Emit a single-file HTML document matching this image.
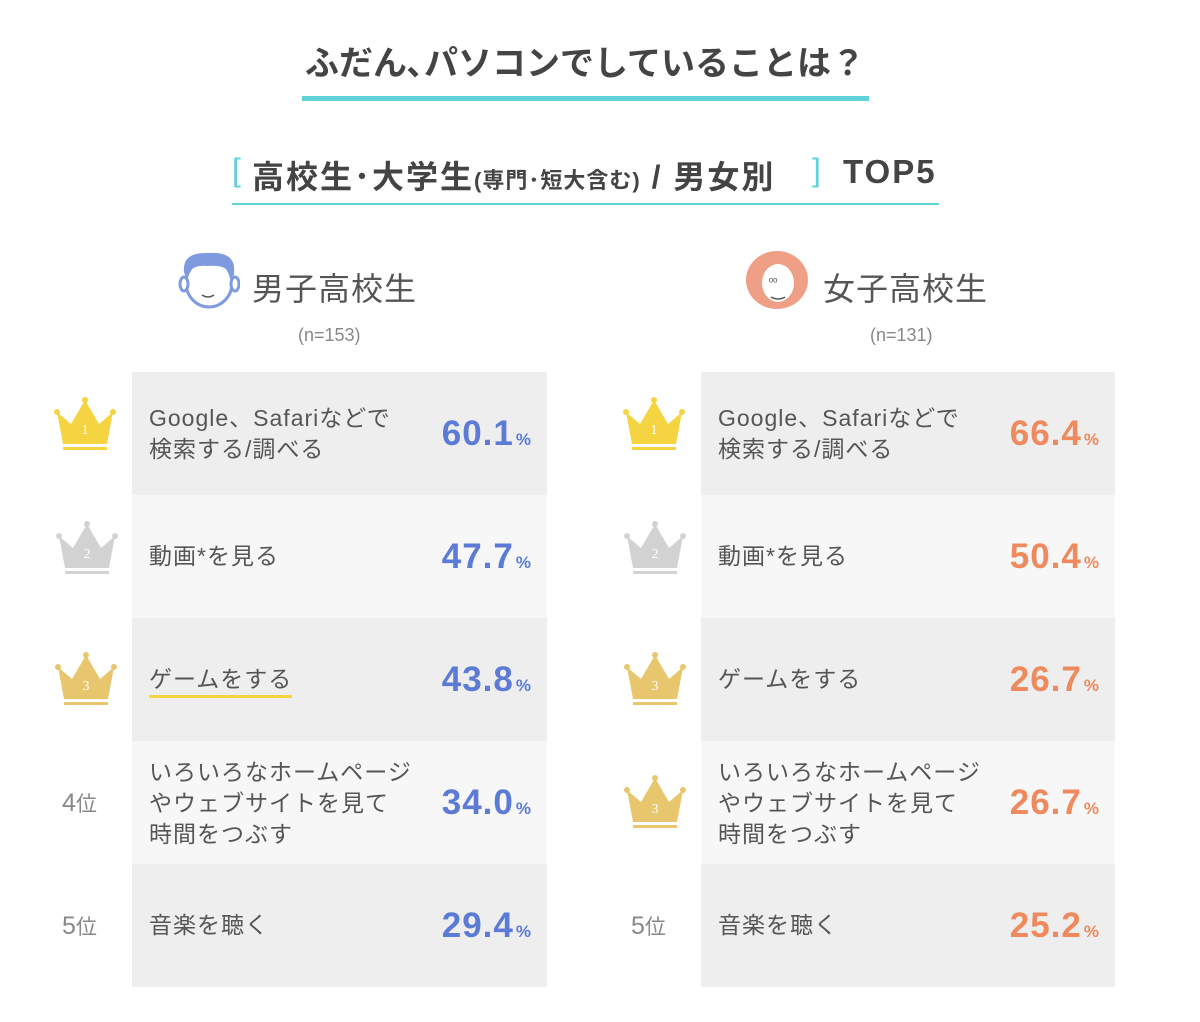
<!DOCTYPE html>
<html><head><meta charset="utf-8"><style>
body{margin:0;width:1200px;height:1022px;background:#fff;font-family:"Liberation Sans","Noto Sans CJK JP",sans-serif;color:#555;position:relative;overflow:hidden}
.a{position:absolute}
.row{position:absolute;height:123px;display:flex;align-items:center}
.lab{position:absolute;left:17px;font-size:23px;line-height:31px;color:#555;letter-spacing:1px}
.val{position:absolute;right:16px;font-size:35px;font-weight:bold;letter-spacing:1px}
.val small{font-size:17px;margin-left:2px;letter-spacing:0}
.rank{position:absolute;font-size:25px;color:#888}
</style></head><body>
<div class="a" style="left:0;width:1170px;top:36px;text-align:center;font-size:34px;font-weight:bold;color:#444;letter-spacing:0px">ふだん､パソコンでしていることは？</div>
<div class="a" style="left:302px;top:96px;width:567px;height:5px;background:#5fd3d8"></div>
<div class="a" style="left:232px;top:152px;font-size:32px;color:#5fd3d8">[</div>
<div class="a" style="left:252px;top:152px;font-size:32px;color:#444;font-weight:bold;white-space:nowrap;letter-spacing:2px">高校生･大学生<span style="font-size:22px;letter-spacing:1px">(専門･短大含む)</span> / 男女別</div>
<div class="a" style="left:812px;top:152px;font-size:32px;color:#5fd3d8">]</div>
<div class="a" style="left:843px;top:153px;font-size:33px;color:#444;font-weight:bold;letter-spacing:2px">TOP5</div>
<div class="a" style="left:232px;top:203px;width:707px;height:2px;background:#5fd3d8"></div>

<svg class="a" style="left:178px;top:248px" width="62" height="62"><path d="M6 24 Q4 4 30 5 Q58 3 56 24 L56 30 Q50 16 30 18 Q12 16 8 30Z" fill="#7f9be0"/><ellipse cx="31" cy="35" rx="23" ry="24" fill="none" stroke="#7f9be0" stroke-width="3"/><ellipse cx="6" cy="36" rx="4" ry="7" fill="#fff" stroke="#7f9be0" stroke-width="3"/><ellipse cx="57" cy="36" rx="4" ry="7" fill="#fff" stroke="#7f9be0" stroke-width="3"/><path d="M24 47 Q30 51 36 47" stroke="#555" fill="none" stroke-width="1.5"/></svg>
<div class="a" style="left:252px;top:264px;font-size:32px;color:#555;letter-spacing:1px">男子高校生</div>
<div class="a" style="left:298px;top:325px;font-size:18px;color:#888">(n=153)</div>

<svg class="a" style="left:745px;top:250px" width="64" height="60"><ellipse cx="32" cy="30" rx="31" ry="29" fill="#ee9f86"/><ellipse cx="33" cy="33" rx="16" ry="19" fill="#fff"/><path d="M26 47 Q33 51 40 47" stroke="#555" fill="none" stroke-width="1.5"/><text x="24" y="35" font-size="11" fill="#444">ᵒᵒ</text></svg>
<div class="a" style="left:823px;top:264px;font-size:32px;color:#555;letter-spacing:1px">女子高校生</div>
<div class="a" style="left:870px;top:325px;font-size:18px;color:#888">(n=131)</div>

<div class="row" style="left:132px;top:372px;width:415px;background:#eeeeee"><div class="lab" style="top:31px">Google、Safariなどで<br>検索する/調べる</div><div class="val" style="color:#5b7bd6;top:42px">60.1<small>%</small></div></div>
<div class="row" style="left:132px;top:495px;width:415px;background:#f7f7f7"><div class="lab" style="top:46px">動画*を見る</div><div class="val" style="color:#5b7bd6;top:42px">47.7<small>%</small></div></div>
<div class="row" style="left:132px;top:618px;width:415px;background:#eeeeee"><div class="lab" style="top:46px;border-bottom:3px solid #f5d442">ゲームをする</div><div class="val" style="color:#5b7bd6;top:42px">43.8<small>%</small></div></div>
<div class="row" style="left:132px;top:741px;width:415px;background:#f7f7f7"><div class="lab" style="top:16px">いろいろなホームページ<br>やウェブサイトを見て<br>時間をつぶす</div><div class="val" style="color:#5b7bd6;top:42px">34.0<small>%</small></div></div>
<div class="row" style="left:132px;top:864px;width:415px;background:#eeeeee"><div class="lab" style="top:46px">音楽を聴く</div><div class="val" style="color:#5b7bd6;top:42px">29.4<small>%</small></div></div>

<div class="row" style="left:701px;top:372px;width:414px;background:#eeeeee"><div class="lab" style="top:31px">Google、Safariなどで<br>検索する/調べる</div><div class="val" style="color:#ee8a5e;top:42px">66.4<small>%</small></div></div>
<div class="row" style="left:701px;top:495px;width:414px;background:#f7f7f7"><div class="lab" style="top:46px">動画*を見る</div><div class="val" style="color:#ee8a5e;top:42px">50.4<small>%</small></div></div>
<div class="row" style="left:701px;top:618px;width:414px;background:#eeeeee"><div class="lab" style="top:46px">ゲームをする</div><div class="val" style="color:#ee8a5e;top:42px">26.7<small>%</small></div></div>
<div class="row" style="left:701px;top:741px;width:414px;background:#f7f7f7"><div class="lab" style="top:16px">いろいろなホームページ<br>やウェブサイトを見て<br>時間をつぶす</div><div class="val" style="color:#ee8a5e;top:42px">26.7<small>%</small></div></div>
<div class="row" style="left:701px;top:864px;width:414px;background:#eeeeee"><div class="lab" style="top:46px">音楽を聴く</div><div class="val" style="color:#ee8a5e;top:42px">25.2<small>%</small></div></div>

<svg class="a" style="left:0;top:0" width="1200" height="1022">
<defs><g id="cr"><circle cx="2" cy="14" r="3"/><circle cx="30" cy="2" r="3"/><circle cx="58" cy="14" r="3"/><path d="M2 14 L16 26 L30 2 L44 26 L58 14 L52 46 L8 46Z"/><rect x="8" y="49" width="44" height="3"/></g></defs>
<use href="#cr" x="55" y="398" fill="#f5d442"/><use href="#cr" x="624" y="398" fill="#f5d442"/>
<use href="#cr" x="57" y="522" fill="#d2d2d2"/><use href="#cr" x="625" y="522" fill="#d2d2d2"/>
<use href="#cr" x="56" y="653" fill="#e8c66e"/><use href="#cr" x="625" y="653" fill="#e8c66e"/><use href="#cr" x="625" y="776" fill="#e8c66e"/>
<g font-size="14" fill="#fff" text-anchor="middle" font-family="Liberation Serif"><text x="85" y="434">1</text><text x="654" y="434">1</text><text x="87" y="558">2</text><text x="655" y="558">2</text><text x="86" y="690">3</text><text x="655" y="690">3</text><text x="655" y="813">3</text></g>
</svg>
<div class="rank" style="left:62px;top:788px">4<span style="font-size:21px">位</span></div>
<div class="rank" style="left:62px;top:911px">5<span style="font-size:21px">位</span></div>
<div class="rank" style="left:631px;top:911px">5<span style="font-size:21px">位</span></div>
</body></html>
